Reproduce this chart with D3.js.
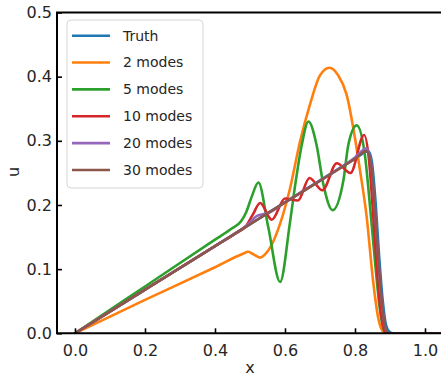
<!DOCTYPE html>
<html><head><meta charset="utf-8">
<script src="https://cdn.jsdelivr.net/npm/d3@7"></script>
<style>html,body{margin:0;padding:0;background:#fff;}svg{display:block;}</style>
</head><body><div id="chart"></div>
<script>
// ---- data ----
const seriesNames = ["Truth", "2 modes", "5 modes", "10 modes", "20 modes", "30 modes"];
const xTicks = [0.0, 0.2, 0.4, 0.6, 0.8, 1.0];
const yTicks = [0.0, 0.1, 0.2, 0.3, 0.4, 0.5];

const truthX = [0, 0.2, 0.4, 0.6, 0.8, 0.838, 0.848, 0.858, 0.869, 0.879, 0.889, 0.899, 0.909, 1.05];
const truthU = [0, 0.068, 0.136, 0.204, 0.272, 0.284, 0.268, 0.21, 0.12, 0.052, 0.012, 0.002, 0, 0];

const m2X = [0, 0.2, 0.4, 0.48, 0.495, 0.51, 0.529, 0.545, 0.562, 0.586, 0.614, 0.643, 0.671, 0.7, 0.727, 0.752, 0.776, 0.8, 0.814, 0.833, 0.852, 0.866, 0.876, 0.888, 1.05];
const m2U = [0, 0.052, 0.103, 0.124, 0.127, 0.123, 0.118, 0.124, 0.138, 0.171, 0.225, 0.299, 0.356, 0.402, 0.414, 0.402, 0.372, 0.304, 0.255, 0.183, 0.08, 0.025, 0.006, 0, 0];

const m5X = [0, 0.2, 0.4, 0.45, 0.475, 0.49, 0.505, 0.524, 0.552, 0.586, 0.614, 0.629, 0.648, 0.667, 0.69, 0.71, 0.736, 0.767, 0.781, 0.805, 0.829, 0.84, 0.85, 0.86, 0.87, 0.88, 0.89, 1.05];
const m5U = [0, 0.073, 0.146, 0.164, 0.175, 0.19, 0.213, 0.235, 0.166, 0.08, 0.172, 0.231, 0.294, 0.33, 0.294, 0.231, 0.192, 0.239, 0.294, 0.324, 0.275, 0.215, 0.155, 0.095, 0.042, 0.01, 0, 0];

const m10X = [0, 0.2, 0.4, 0.46, 0.49, 0.508, 0.529, 0.562, 0.6, 0.637, 0.67, 0.707, 0.748, 0.787, 0.826, 0.84, 0.85, 0.86, 0.87, 0.88, 0.89, 1.05];
const m10U = [0, 0.068, 0.136, 0.156, 0.168, 0.185, 0.203, 0.177, 0.21, 0.207, 0.242, 0.223, 0.265, 0.25, 0.309, 0.27, 0.2, 0.12, 0.05, 0.012, 0, 0];

const m20X = [0, 0.2, 0.4, 0.47, 0.495, 0.52, 0.55, 0.6, 0.7, 0.8, 0.832, 0.845, 0.855, 0.866, 0.876, 0.886, 0.896, 1.05];
const m20U = [0, 0.068, 0.136, 0.16, 0.17, 0.183, 0.187, 0.204, 0.238, 0.274, 0.288, 0.268, 0.208, 0.12, 0.052, 0.01, 0, 0];

const m30X = [0, 0.2, 0.4, 0.6, 0.8, 0.833, 0.845, 0.855, 0.866, 0.876, 0.886, 0.896, 1.05];
const m30U = [0, 0.068, 0.136, 0.204, 0.272, 0.284, 0.266, 0.208, 0.12, 0.052, 0.01, 0, 0];

const colors = ["#1f77b4", "#ff7f0e", "#2ca02c", "#d62728", "#9467bd", "#8c564b"];

// ---- drawing ----
const W = 441, H = 379;
const svg = d3.select("#chart").append("svg").attr("width", W).attr("height", H);

const x = d3.scaleLinear().domain([-0.0514, 1.0514]).range([57, 443]);
const y = d3.scaleLinear().domain([0, 0.5]).range([333.3, 12.5]);

const seriesData = [
  [truthX, truthU], [m2X, m2U], [m5X, m5U], [m10X, m10U], [m20X, m20U], [m30X, m30U]
].map(([xs, us]) => xs.map((v, i) => [v, us[i]]));

svg.append("clipPath").attr("id", "clip").append("rect")
  .attr("x", 57).attr("y", 12.5).attr("width", 443 - 57).attr("height", 333.3 - 12.5);

const line = d3.line().x(d => x(d[0])).y(d => y(d[1])).curve(d3.curveMonotoneX);
const g = svg.append("g").attr("clip-path", "url(#clip)");
seriesData.forEach((d, i) => {
  g.append("path").attr("d", line(d)).attr("fill", "none")
    .attr("stroke", colors[i]).attr("stroke-width", 2.6)
    .attr("stroke-linejoin", "round").attr("stroke-linecap", "butt");
});

// axes
const xAxis = d3.axisBottom(x).tickValues(xTicks).tickFormat(d3.format(".1f")).tickSizeInner(-5).tickSizeOuter(0).tickPadding(8);
const yAxis = d3.axisLeft(y).tickValues(yTicks).tickFormat(d3.format(".1f")).tickSizeInner(-5).tickSizeOuter(0).tickPadding(5);
const gx = svg.append("g").attr("transform", "translate(0,333.3)").call(xAxis);
const gy = svg.append("g").attr("transform", "translate(57,0)").call(yAxis);
[gx, gy].forEach(a => {
  a.select(".domain").remove();
  a.selectAll(".tick line").attr("stroke", "#000").attr("stroke-width", 1.6);
  a.selectAll(".tick text").attr("fill", "#262626").style("font-family", "DejaVu Sans").style("font-size", "16px");
});
gx.selectAll(".tick text").attr("dy", "0.9em");

// spines
svg.append("line").attr("x1", 57).attr("x2", 57).attr("y1", 12.5).attr("y2", 333.3).attr("stroke", "#000").attr("stroke-width", 2);
svg.append("line").attr("x1", 56).attr("x2", 443).attr("y1", 333.3).attr("y2", 333.3).attr("stroke", "#000").attr("stroke-width", 2);
svg.append("line").attr("x1", 56).attr("x2", 443).attr("y1", 12.5).attr("y2", 12.5).attr("stroke", "#000").attr("stroke-width", 2);

// axis labels
svg.append("text").attr("x", 250).attr("y", 373).attr("text-anchor", "middle")
  .style("font-family", "DejaVu Sans").style("font-size", "16px").attr("fill", "#262626").text("x");
svg.append("text").attr("transform", "translate(19,172) rotate(-90)").attr("text-anchor", "middle")
  .style("font-family", "DejaVu Sans").style("font-size", "16px").attr("fill", "#262626").text("u");

// legend
const lg = svg.append("g");
lg.append("rect").attr("x", 67).attr("y", 20).attr("width", 136).attr("height", 168)
  .attr("rx", 4).attr("fill", "#fff").attr("fill-opacity", 0.8).attr("stroke", "#d6d6d6").attr("stroke-width", 1);
seriesNames.forEach((n, i) => {
  const yy = 35.7 + i * 26.85;
  lg.append("line").attr("x1", 72).attr("x2", 110).attr("y1", yy).attr("y2", yy)
    .attr("stroke", colors[i]).attr("stroke-width", 2.6);
  lg.append("text").attr("x", 123).attr("y", yy).attr("dy", "0.35em")
    .style("font-family", "DejaVu Sans").style("font-size", "14px").attr("fill", "#262626").text(n);
});
</script>
</body></html>
